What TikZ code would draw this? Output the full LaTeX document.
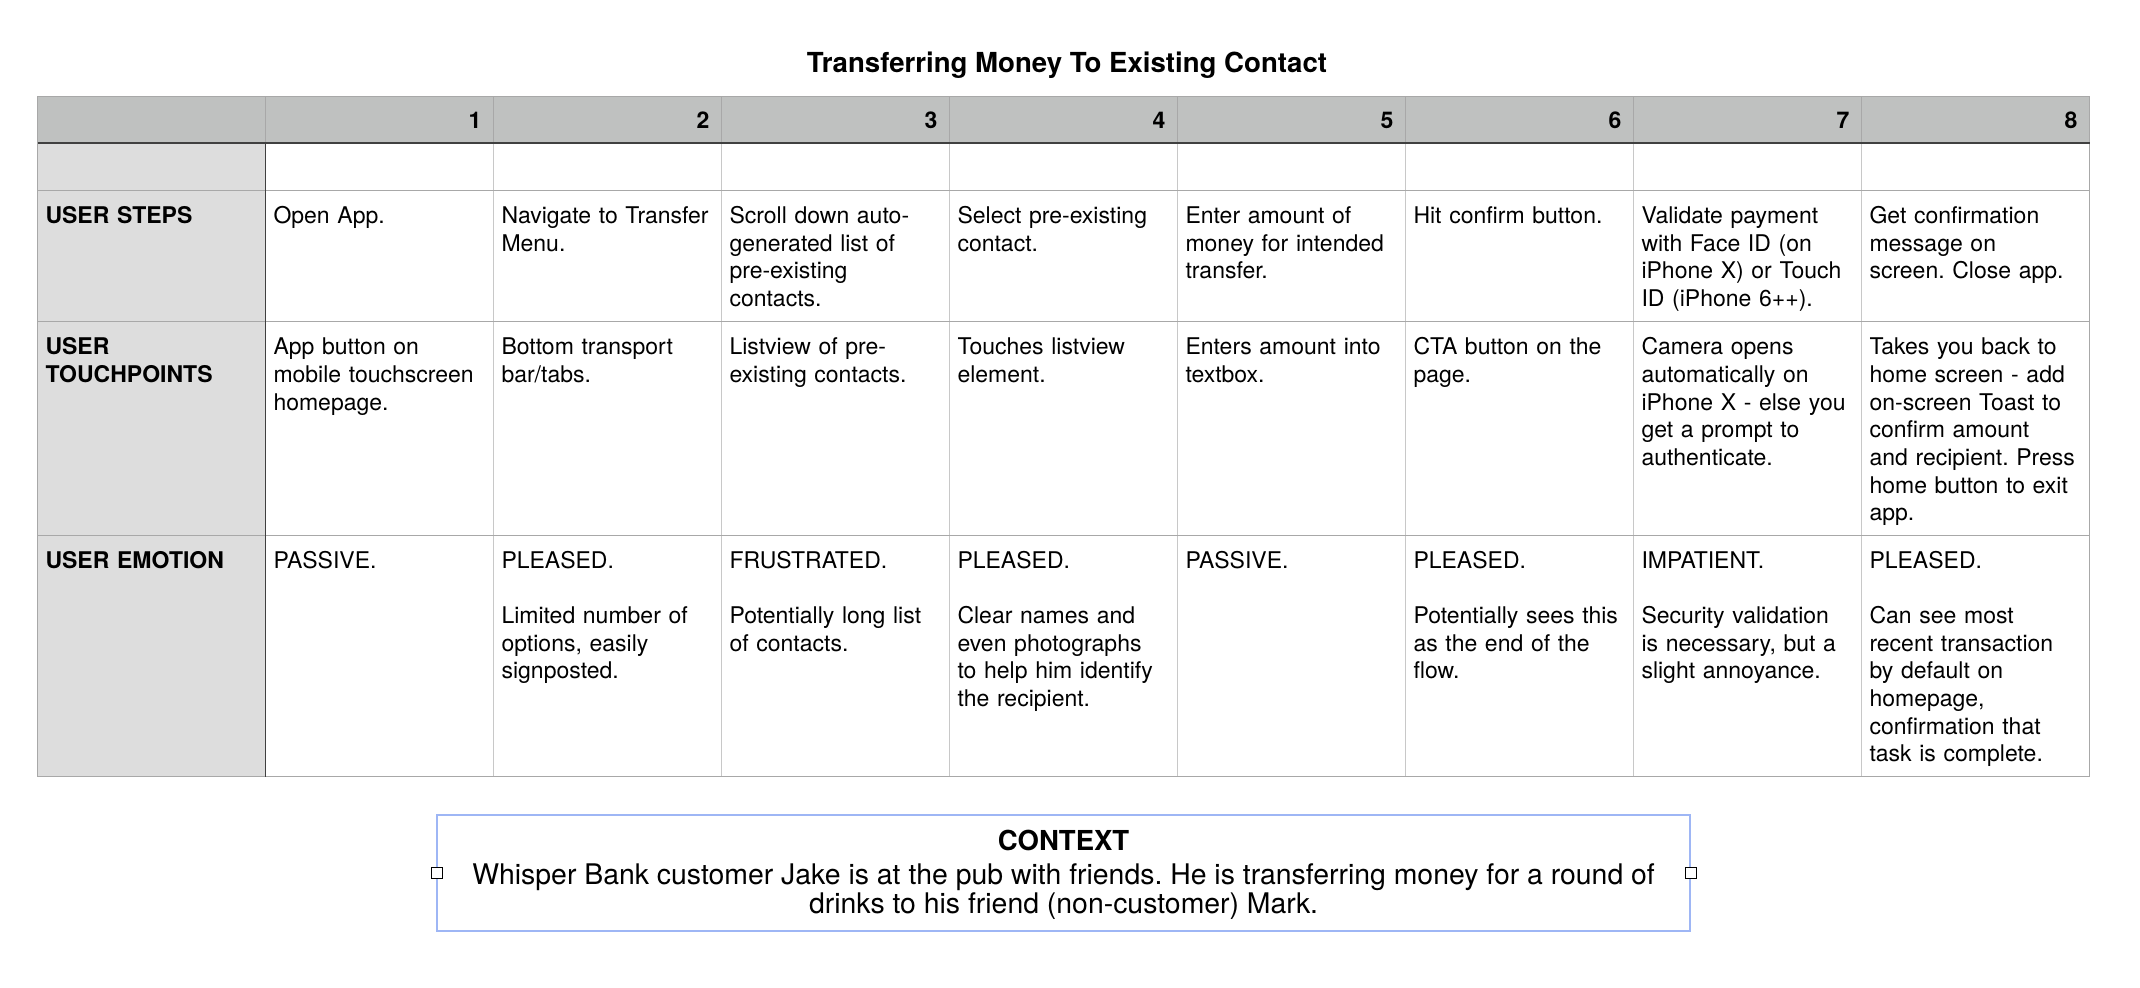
\documentclass[tikz,border=0pt]{standalone}
\usepackage{fontspec}
\setmainfont{TeX Gyre Heros}
\usepackage{tikz}
\usetikzlibrary{positioning}
\frenchspacing
\definecolor{headgray}{RGB}{191,193,192}
\definecolor{labelgray}{RGB}{221,221,221}
\definecolor{gridgray}{RGB}{200,200,200}
\definecolor{rulegray}{RGB}{168,168,168}
\definecolor{darkrule}{RGB}{64,64,64}
\definecolor{ctxblue}{RGB}{158,182,245}
\newcommand{\cellfont}{\fontsize{11.5pt}{13.85pt}\selectfont}
\tikzstyle{cell} = [rectangle, draw=gridgray, line width=0.5pt, outer sep=0pt, inner ysep=0pt, inner xsep=4pt, text width=106pt, align=left, font=\cellfont]
\tikzstyle{rowlabel} = [cell, fill=labelgray, font=\cellfont\bfseries]
\tikzstyle{rowrule} = [draw=rulegray, line width=0.5pt]
\tikzstyle{darkline} = [draw=darkrule, line width=0.8pt]

\begin{document}
\begin{tikzpicture}
    \tikzset{headcell/.style = {cell, fill=headgray, draw=rulegray, align=right, inner xsep=6pt, text width=102pt, font=\cellfont\bfseries, text height=15.75pt, text depth=7.55pt},
    blankrow/.style = {text height=16.5pt, text depth=7.1pt},
    steprow/.style = {text height=16.5pt, text depth=49.1pt},
    touchrow/.style = {text height=16.5pt, text depth=90.15pt},
    emorow/.style = {text height=16.5pt, text depth=104.35pt},
    ctxbox/.style = {draw=ctxblue, line width=0.85pt, minimum width=626.35pt, minimum height=58.1pt, inner sep=0pt},
    ctxtext/.style = {font=\fontsize{14.2pt}{14.65pt}\selectfont, inner sep=0pt},
    handle/.style = {draw=black, fill=white, line width=0.4pt, minimum size=5.5pt, inner sep=0pt}}
\useasboundingbox (0,0) rectangle (1070pt,-494pt);

\node (title) [anchor=base, font=\fontsize{13.8pt}{16pt}\selectfont\bfseries] at (533.5pt,-36.35pt) {Transferring Money To Existing Contact};

% header row
\node (corner) [headcell, anchor=north west] at (18.75pt,-48.35pt) {};
\node (n1) [headcell, right=0pt of corner] {1};
\node (n2) [headcell, right=0pt of n1] {2};
\node (n3) [headcell, right=0pt of n2] {3};
\node (n4) [headcell, right=0pt of n3] {4};
\node (n5) [headcell, right=0pt of n4] {5};
\node (n6) [headcell, right=0pt of n5] {6};
\node (n7) [headcell, right=0pt of n6] {7};
\node (n8) [headcell, right=0pt of n7] {8};

% empty row
\node (blank) [rowlabel, blankrow, below=0pt of corner] {};
\node (b1) [cell, blankrow, right=0pt of blank] {};
\node (b2) [cell, blankrow, right=0pt of b1] {};
\node (b3) [cell, blankrow, right=0pt of b2] {};
\node (b4) [cell, blankrow, right=0pt of b3] {};
\node (b5) [cell, blankrow, right=0pt of b4] {};
\node (b6) [cell, blankrow, right=0pt of b5] {};
\node (b7) [cell, blankrow, right=0pt of b6] {};
\node (b8) [cell, blankrow, right=0pt of b7] {};

% user steps
\node (steps) [rowlabel, steprow, below=0pt of blank] {USER STEPS};
\node (s1) [cell, steprow, right=0pt of steps] {Open App.};
\node (s2) [cell, steprow, right=0pt of s1] {Navigate to Transfer\\Menu.};
\node (s3) [cell, steprow, right=0pt of s2] {Scroll down auto-\\generated list of\\pre-existing\\contacts.};
\node (s4) [cell, steprow, right=0pt of s3] {Select pre-existing\\contact.};
\node (s5) [cell, steprow, right=0pt of s4] {Enter amount of\\money for intended\\transfer.};
\node (s6) [cell, steprow, right=0pt of s5] {Hit confirm button.};
\node (s7) [cell, steprow, right=0pt of s6] {Validate payment\\with Face ID (on\\iPhone X) or Touch\\ID (iPhone 6++).};
\node (s8) [cell, steprow, right=0pt of s7] {Get confirmation\\message on\\screen. Close app.};

% user touchpoints
\node (touch) [rowlabel, touchrow, below=0pt of steps] {USER\\TOUCHPOINTS};
\node (t1) [cell, touchrow, right=0pt of touch] {App button on\\mobile touchscreen\\homepage.};
\node (t2) [cell, touchrow, right=0pt of t1] {Bottom transport\\bar/tabs.};
\node (t3) [cell, touchrow, right=0pt of t2] {Listview of pre-\\existing contacts.};
\node (t4) [cell, touchrow, right=0pt of t3] {Touches listview\\element.};
\node (t5) [cell, touchrow, right=0pt of t4] {Enters amount into\\textbox.};
\node (t6) [cell, touchrow, right=0pt of t5] {CTA button on the\\page.};
\node (t7) [cell, touchrow, right=0pt of t6] {Camera opens\\automatically on\\iPhone X - else you\\get a prompt to\\authenticate.};
\node (t8) [cell, touchrow, right=0pt of t7] {Takes you back to\\home screen - add\\on-screen Toast to\\confirm amount\\and recipient. Press\\home button to exit\\app.};

% user emotion
\node (emotion) [rowlabel, emorow, below=0pt of touch] {USER EMOTION};
\node (e1) [cell, emorow, right=0pt of emotion] {PASSIVE.};
\node (e2) [cell, emorow, right=0pt of e1] {PLEASED.\\[13.85pt]Limited number of\\options, easily\\signposted.};
\node (e3) [cell, emorow, right=0pt of e2] {FRUSTRATED.\\[13.85pt]Potentially long list\\of contacts.};
\node (e4) [cell, emorow, right=0pt of e3] {PLEASED.\\[13.85pt]Clear names and\\even photographs\\to help him identify\\the recipient.};
\node (e5) [cell, emorow, right=0pt of e4] {PASSIVE.};
\node (e6) [cell, emorow, right=0pt of e5] {PLEASED.\\[13.85pt]Potentially sees this\\as the end of the\\flow.};
\node (e7) [cell, emorow, right=0pt of e6] {IMPATIENT.\\[13.85pt]Security validation\\is necessary, but a\\slight annoyance.};
\node (e8) [cell, emorow, right=0pt of e7] {PLEASED.\\[13.85pt]Can see most\\recent transaction\\by default on\\homepage,\\confirmation that\\task is complete.};

% rules
\draw [rowrule] (blank.south west) -- (b8.south east);
\draw [rowrule] (steps.south west) -- (s8.south east);
\draw [rowrule] (touch.south west) -- (t8.south east);
\draw [rowrule] (corner.north west) rectangle (e8.south east);
\draw [darkline] (corner.south west) -- (n8.south east);
\draw [darkline] (blank.north east) -- (emotion.south east);

% context
\node (context) [ctxbox] at (531.8pt,-436.6pt) {};
\node (ctxhead) [anchor=base, inner sep=0pt, font=\fontsize{13.75pt}{16pt}\selectfont\bfseries] at ([yshift=-18.35pt]context.north) {CONTEXT};
\node (ctxone) [ctxtext, anchor=base] at ([yshift=-35pt]context.north) {Whisper Bank customer Jake is at the pub with friends. He is transferring money for a round of};
\node (ctxtwo) [ctxtext, anchor=base] at ([yshift=-14.65pt]ctxone.base) {drinks to his friend (non-customer) Mark.};
\node (hleft) [handle] at (context.west) {};
\node (hright) [handle] at (context.east) {};

\end{tikzpicture}
\end{document}
